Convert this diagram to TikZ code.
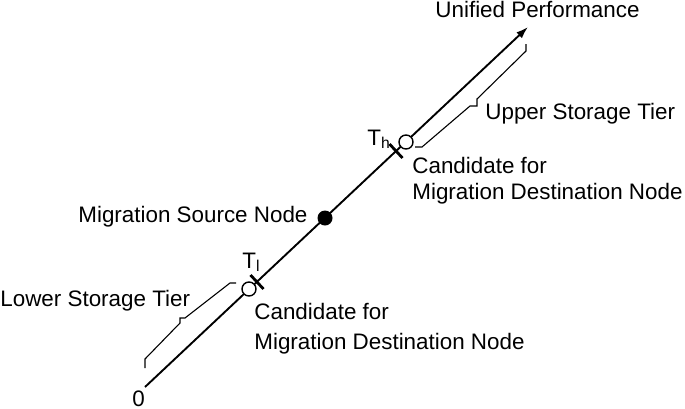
\documentclass[tikz,border=0pt]{standalone}
\usepackage{fontspec}
\setmainfont{Liberation Sans}
\usetikzlibrary{arrows.meta}

\begin{document}
\begin{tikzpicture}[x=0.5pt,y=-0.5pt,
    lbl/.style={inner sep=0pt,anchor=base west,font=\fontsize{11.2}{13}\selectfont},
    cand/.style={circle,draw,fill=white,line width=0.7pt,minimum size=7pt,inner sep=0pt},
    srcdot/.style={circle,fill=black,minimum size=7.5pt,inner sep=0pt},
    thr/.style={line width=1.4pt},
    tierbrace/.style={line width=0.55pt,line join=miter}]
    \useasboundingbox (0,0) rectangle (685,408);
    % axis
    \coordinate (zero) at (145,387);
    \coordinate (top) at (528,27);
    \draw[line width=0.95pt,-{Latex[length=6pt,width=4pt]}] (zero) -- (top);
    % thresholds
    \coordinate (tl) at (257,282);
    \coordinate (th) at (396,151);
    \draw[thr] (tl) ++(-6.5,-7) -- ++(13,14);
    \draw[thr] (th) ++(-6.5,-7) -- ++(13,14);
    % nodes on the axis
    \node[cand] (cl) at (249,289) {};
    \node[cand] (ch) at (406,142) {};
    \node[srcdot] (src) at (325,218) {};
    % tiers
    \draw[tierbrace] (236,283) -- (230,283) -- (185,318) -- (180,318) -- (180,323) -- (145,359) -- (145,368);
    \draw[tierbrace] (415,147) -- (422,147) -- (470,106) -- (477,106) -- (477,99) -- (526,51) -- (526,44);
    % labels
    \node[lbl,anchor=base east] (unif) at (640,17) {Unified Performance};
    \node[lbl] (upper) at (485,119) {Upper Storage Tier};
    \node[lbl] (lower) at (0,306) {Lower Storage Tier};
    \node[lbl] (srclbl) at (78,222) {Migration Source Node};
    \node[lbl] (thlbl) at (367,145) {T\textsubscript{h}};
    \node[lbl] (tllbl) at (242,268) {T\textsubscript{l}};
    \node[lbl,anchor=north west,align=left] (chlbl) at (412,157) {Candidate for\\Migration Destination Node};
    \node[lbl,anchor=north west,align=left] (cllbl) at (254,303) {Candidate for\\[2pt]Migration Destination Node};
    \node[lbl] (zlbl) at (132,406) {0};
\end{tikzpicture}
\end{document}
